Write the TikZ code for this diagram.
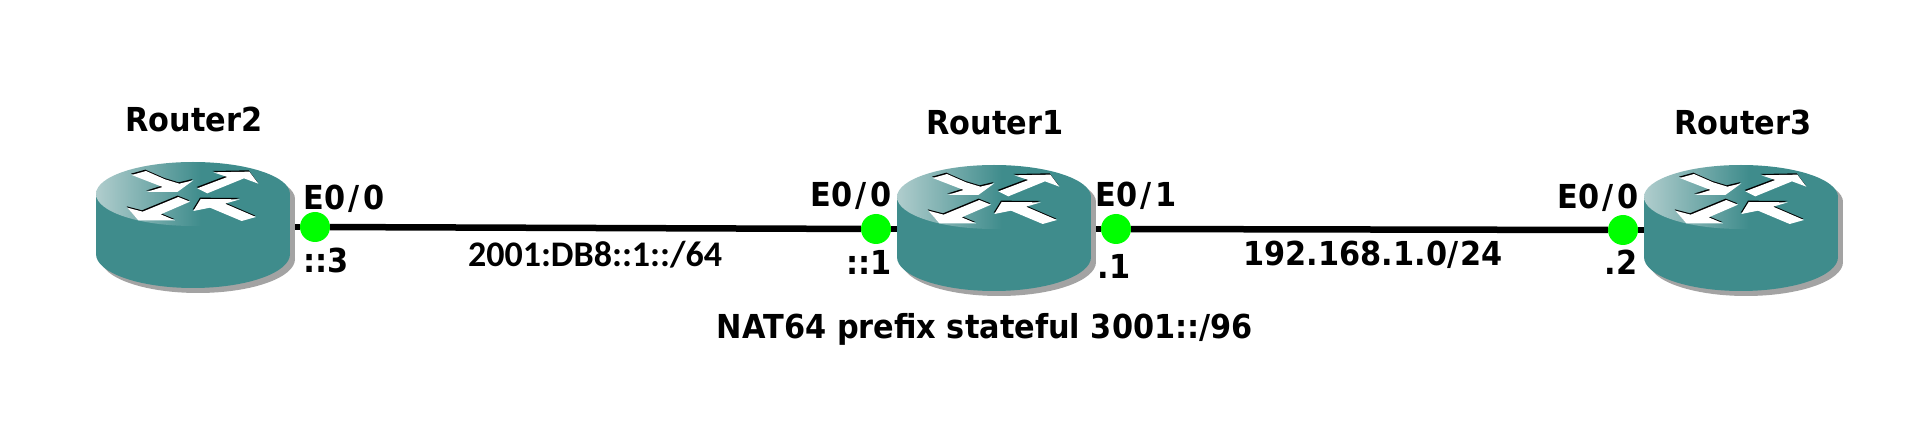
\documentclass[tikz,border=0pt]{standalone}
\usepackage{fontspec}
\setmainfont{Liberation Sans}
\newfontfamily\tahfont[FakeStretch=0.92]{DejaVu Sans}
\newfontfamily\calfont{Carlito}
\usetikzlibrary{shapes.geometric}
\definecolor{rteal}{HTML}{3F8C8C}
\definecolor{rlight}{HTML}{B0CDCD}
\definecolor{rshadow}{HTML}{A3A3A3}
\definecolor{portgreen}{HTML}{00FF00}
\pgfdeclarehorizontalshading{routerhl}{100bp}{color(0bp)=(rlight); color(25bp)=(rlight); color(52bp)=(rteal); color(100bp)=(rteal)}
\pgfdeclarelayer{bg}
\pgfsetlayers{bg,main}
\tikzset{
  routerbox/.style={inner sep=0pt,outer sep=0pt,minimum width=194pt,minimum height=126pt},
  port/.style={circle,fill=portgreen,inner sep=0pt,minimum size=30pt},
  link/.style={draw=black,line width=6.5pt},
  tlabel/.style={anchor=base,inner sep=0pt,font=\tahfont\bfseries\fontsize{33}{37}\selectfont},
  clabel/.style={anchor=base,inner sep=0pt,font=\calfont\bfseries\fontsize{36}{40}\selectfont},
}
\newcommand{\arrowpoly}[1]{%
  \fill[black,shift={(-2,-4)}] plot[] coordinates {#1} -- cycle;
  \fill[white] plot[] coordinates {#1} -- cycle;}
\newcommand{\routerart}[1]{%
  \begin{scope}[shift={(#1.north west)}]
    \begin{scope}[shift={(5,5)}]
      \fill[rshadow] (97,92) ellipse [x radius=97,y radius=34];
      \fill[rshadow] (0,32) rectangle (194,92);
      \fill[rshadow] (97,32) ellipse [x radius=97,y radius=32];
    \end{scope}
    \fill[rteal] (97,92) ellipse [x radius=97,y radius=34];
    \fill[rteal] (0,32) rectangle (194,92);
    \shade[shading=routerhl] (97,32) ellipse [x radius=97,y radius=32];
    \begin{scope}[shift={(24,-1)},scale=0.3333]
      \arrowpoly{(35,42) (78,30) (135,55) (178,68) (220,58) (172,93) (80,93) (128,78)}
      \arrowpoly{(232,82) (322,48) (280,34) (388,32) (415,68) (372,52) (262,97)}
      \arrowpoly{(22,140) (68,152) (175,108) (210,122) (122,160) (165,178) (55,178)}
      \arrowpoly{(220,150) (242,114) (360,115) (315,128) (408,168) (365,180) (270,140)}
    \end{scope}
  \end{scope}}
\begin{document}
\begin{tikzpicture}[x=1pt,y=-1pt]
\useasboundingbox (0,0) rectangle (1913,427);
\node[routerbox] (r2) at (193,225) {};
\node[routerbox] (r1) at (994,228) {};
\node[routerbox] (r3) at (1741,228) {};
\node[port] (p2) at (315,227) {};
\node[port] (p1a) at (876,229) {};
\node[port] (p1b) at (1116,229) {};
\node[port] (p3) at (1623,230) {};
\begin{pgfonlayer}{bg}
  \draw[link] (p2 -| r2.east) -- (p2);
  \draw[link] (p2) -- (p1a);
  \draw[link] (p1a) -- (p1a -| r1.west);
  \draw[link] (p1b -| r1.east) -- (p1b);
  \draw[link] (p1b) -- (p3);
  \draw[link] (p3) -- (p3 -| r3.west);
\end{pgfonlayer}
\routerart{r2}
\routerart{r1}
\routerart{r3}
\node[tlabel] (t2) at (193.7,132) {Router2};
\node[tlabel] (t1) at (995,135) {Router1};
\node[tlabel] (t3) at (1743,135) {Router3};
\node[tlabel] (e2) at (344,210) {E0\kern3.5pt/\kern3.5pt0};
\node[tlabel] (e1a) at (851,207) {E0\kern3.5pt/\kern3.5pt0};
\node[tlabel] (e1b) at (1136,207) {E0\kern3.5pt/\kern3.5pt1};
\node[tlabel] (e3) at (1598,209) {E0\kern3.5pt/\kern3.5pt0};
\node[tlabel] (a2) at (326,273) {::3};
\node[tlabel] (a1a) at (869,275) {::1};
\node[tlabel] (a1b) at (1114,279) {.1};
\node[tlabel] (a3) at (1621,275) {.2};
\node[clabel] (n6) at (595,267) {2001:DB8::1::/64};
\node[tlabel] (n4) at (1373,266) {192.168.1.0/\kern2pt24};
\node[tlabel] (nat) at (985,338) {NAT64 prefix stateful 3001::/96};
\end{tikzpicture}
\end{document}
